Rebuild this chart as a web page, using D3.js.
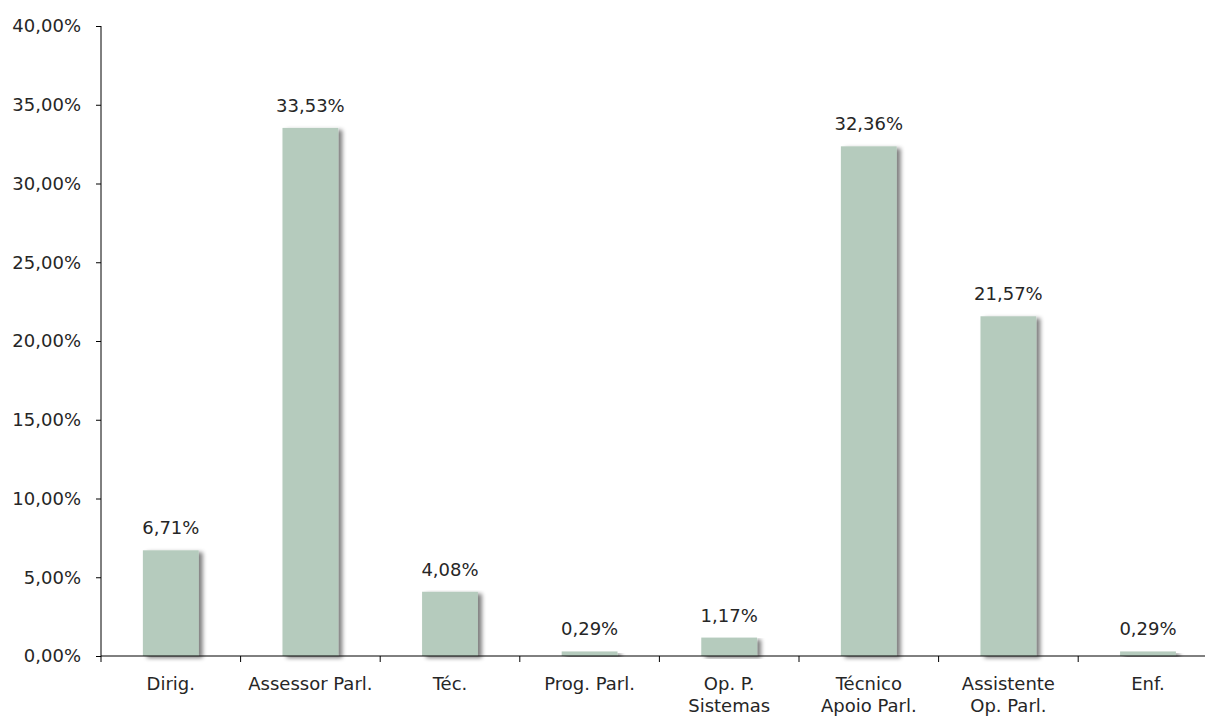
<!DOCTYPE html>
<html>
<head>
<meta charset="utf-8">
<script src="https://cdn.jsdelivr.net/npm/d3@7/dist/d3.min.js"></script>
<style>
  body { margin: 0; background: #fff; overflow: hidden; }
  svg { display: block; }
  svg text { font-family: "DejaVu Sans", sans-serif; fill: #262626; }
</style>
</head>
<body>
<div id="chart"></div>
<script>
// data
const categories = [
  ["Dirig."], ["Assessor Parl."], ["Téc."], ["Prog. Parl."],
  ["Op. P.", "Sistemas"], ["Técnico", "Apoio Parl."], ["Assistente", "Op. Parl."], ["Enf."]
];
const values = [6.71, 33.53, 4.08, 0.29, 1.17, 32.36, 21.57, 0.29];
const yTicks = [0, 5, 10, 15, 20, 25, 30, 35, 40];

const width = 1205, height = 720;
const margin = { top: 26, left: 101, bottom: 64 };
const step = 139.6;
const fmt = v => v.toFixed(2).replace(".", ",") + "%";

const svg = d3.select("#chart").append("svg")
  .attr("width", width)
  .attr("height", height);

const defs = svg.append("defs");
const shadow = defs.append("filter").attr("id", "shadow")
  .attr("x", "-20%").attr("y", "-5%").attr("width", "150%").attr("height", "120%");
shadow.append("feGaussianBlur").attr("in", "SourceAlpha").attr("stdDeviation", 2).attr("result", "blur");
shadow.append("feOffset").attr("in", "blur").attr("dx", 4).attr("dy", 2).attr("result", "off");
shadow.append("feComponentTransfer").attr("in", "off").attr("result", "soft")
  .append("feFuncA").attr("type", "linear").attr("slope", 0.5);
const merge = shadow.append("feMerge");
merge.append("feMergeNode").attr("in", "soft");
merge.append("feMergeNode").attr("in", "SourceGraphic");

const x = d3.scaleBand()
  .domain(d3.range(categories.length))
  .range([margin.left, margin.left + step * categories.length])
  .paddingInner(0.6)
  .paddingOuter(0.3);

const y = d3.scaleLinear()
  .domain([0, 40])
  .range([height - margin.bottom, margin.top]);

// bars
svg.append("g")
  .selectAll("rect")
  .data(values)
  .enter()
  .append("rect")
  .attr("x", (d, i) => x(i))
  .attr("y", d => y(d))
  .attr("width", x.bandwidth())
  .attr("height", d => y(0) - y(d))
  .attr("fill", "#b5cbbd")
  .attr("filter", "url(#shadow)");

// value labels
svg.append("g")
  .selectAll("text")
  .data(values)
  .enter()
  .append("text")
  .attr("x", (d, i) => x(i) + x.bandwidth() / 2)
  .attr("y", d => y(d) - 16)
  .attr("text-anchor", "middle")
  .style("font-size", "18px")
  .text(d => fmt(d));

// y axis
const yAxis = svg.append("g")
  .attr("transform", `translate(${margin.left},0)`)
  .call(d3.axisLeft(y).tickValues(yTicks).tickSize(5).tickPadding(15).tickFormat(fmt));
yAxis.select(".domain").attr("stroke", "#000").attr("d", `M0,${y(40)}V${y(0)}`);
yAxis.selectAll(".tick line").attr("stroke", "#000");
yAxis.selectAll("text").style("font-size", "18px").attr("fill", "#262626");

// x axis
const xTicks = d3.range(categories.length + 1).map(i => margin.left + i * step);
const xg = svg.append("g");
xg.append("line")
  .attr("x1", margin.left).attr("x2", margin.left + step * categories.length)
  .attr("y1", y(0)).attr("y2", y(0))
  .attr("stroke", "#000");
xg.selectAll(".xtick")
  .data(xTicks)
  .enter()
  .append("line")
  .attr("x1", d => d).attr("x2", d => d)
  .attr("y1", y(0)).attr("y2", y(0) + 6)
  .attr("stroke", "#000");

const labels = xg.selectAll(".xlabel")
  .data(categories)
  .enter()
  .append("text")
  .attr("text-anchor", "middle")
  .attr("x", (d, i) => x(i) + x.bandwidth() / 2)
  .attr("y", y(0) + 34)
  .style("font-size", "18px");
labels.selectAll("tspan")
  .data(d => d)
  .enter()
  .append("tspan")
  .attr("x", function () { return this.parentNode.getAttribute("x"); })
  .attr("dy", (d, i) => i === 0 ? 0 : 22)
  .text(d => d);
</script>
</body>
</html>
